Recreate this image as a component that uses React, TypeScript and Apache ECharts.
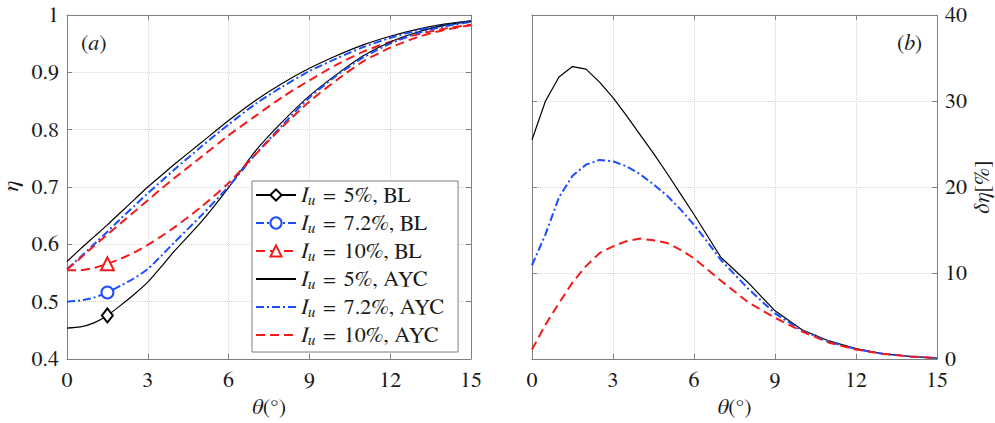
import React, { useEffect, useRef } from "react";
import * as echarts from "echarts";

// ---------- data ----------
const thetaA = [0, 0.5, 1, 1.5, 2, 2.5, 3, 3.5, 4, 5, 6, 7, 8, 9, 10, 11, 12, 13, 14, 15];
const bl5 = [0.454, 0.456, 0.463, 0.476, 0.494, 0.513, 0.534, 0.561, 0.589, 0.640, 0.699, 0.763, 0.814, 0.859, 0.896, 0.929, 0.953, 0.970, 0.982, 0.989];
const bl72 = [0.500, 0.502, 0.507, 0.516, 0.528, 0.541, 0.557, 0.580, 0.604, 0.651, 0.701, 0.757, 0.808, 0.856, 0.894, 0.926, 0.950, 0.968, 0.980, 0.988];
const bl10 = [0.555, 0.555, 0.559, 0.566, 0.575, 0.586, 0.599, 0.614, 0.630, 0.666, 0.707, 0.757, 0.805, 0.849, 0.886, 0.919, 0.943, 0.961, 0.974, 0.982];
const ayc5 = [0.570, 0.592, 0.613, 0.634, 0.656, 0.678, 0.700, 0.720, 0.740, 0.778, 0.816, 0.851, 0.881, 0.907, 0.929, 0.948, 0.963, 0.975, 0.984, 0.990];
const ayc72 = [0.557, 0.578, 0.600, 0.622, 0.645, 0.667, 0.689, 0.710, 0.731, 0.771, 0.809, 0.845, 0.875, 0.902, 0.924, 0.944, 0.960, 0.973, 0.982, 0.989];
const ayc10 = [0.556, 0.576, 0.597, 0.617, 0.637, 0.657, 0.677, 0.697, 0.716, 0.753, 0.790, 0.824, 0.857, 0.886, 0.913, 0.936, 0.953, 0.966, 0.976, 0.983];
const markerTheta = 1.5;

const thetaB = [0, 0.5, 1, 1.5, 2, 2.5, 3, 3.5, 4, 4.5, 5, 5.5, 6, 6.5, 7, 8, 9, 10, 11, 12, 13, 14, 15];
const dEta5 = [25.5, 30.0, 32.8, 34.0, 33.7, 32.2, 30.4, 28.3, 26.1, 23.9, 21.6, 19.2, 16.8, 14.3, 11.8, 8.9, 5.6, 3.4, 2.1, 1.2, 0.6, 0.3, 0.1];
const dEta72 = [10.9, 14.5, 18.8, 21.3, 22.6, 23.15, 23.0, 22.4, 21.5, 20.3, 19.0, 17.4, 15.6, 13.6, 11.5, 8.2, 5.3, 3.3, 2.0, 1.15, 0.6, 0.3, 0.1];
const dEta10 = [1.1, 4.0, 6.5, 8.9, 10.8, 12.3, 13.1, 13.7, 14.0, 13.8, 13.5, 12.7, 11.7, 10.4, 9.1, 6.6, 4.8, 3.2, 1.9, 1.1, 0.6, 0.3, 0.1];

const legendNames = ["Iu = 5%, BL", "Iu = 7.2%, BL", "Iu = 10%, BL", "Iu = 5%, AYC", "Iu = 7.2%, AYC", "Iu = 10%, AYC"];
const legendRich = [
  "{i|I}{s|u}{eq|=}{n|5%, BL}",
  "{i|I}{s|u}{eq|=}{n|7.2%, BL}",
  "{i|I}{s|u}{eq|=}{n|10%, BL}",
  "{i|I}{s|u}{eq|=}{n|5%, AYC}",
  "{i|I}{s|u}{eq|=}{n|7.2%, AYC}",
  "{i|I}{s|u}{eq|=}{n|10%, AYC}",
];

const thetaRange = [0, 15, 3];
const etaRange = [0.4, 1, 0.1];
const dEtaRange = [0, 40, 10];

// ---------- styles ----------
const FONT = "Nimbus Roman, FreeSerif, Tinos, Liberation Serif, serif";
const AX = "#7f7f7f";
const TXT = "#1a1a1a";
const BLACK = "#000000";
const BLUE = "#1a4dff";
const RED = "#f51a1a";
const FS = 22;

const lineBlack = { color: BLACK, width: 1.2, type: "solid" as any };
const lineBlue = { color: BLUE, width: 2, type: [8, 3, 2, 3] as any };
const lineRed = { color: RED, width: 2, type: [9, 5] as any };

const plain = { fontFamily: FONT, fontSize: FS, color: TXT };
const ital = { fontFamily: FONT, fontSize: FS, fontStyle: "italic", color: TXT };

function xAxisCfg(gridIndex: number, main: boolean) {
  return {
    type: "value",
    gridIndex,
    position: main ? "bottom" : "top",
    min: thetaRange[0],
    max: thetaRange[1],
    interval: thetaRange[2],
    name: main ? "{i|θ}{n|(°)}" : "",
    nameLocation: "middle",
    nameGap: 32,
    nameTextStyle: { ...plain, rich: { i: ital, n: plain } },
    axisLine: { show: true, onZero: false, lineStyle: { color: AX, width: 1 } },
    axisTick: { show: true, inside: true, length: 5, lineStyle: { color: AX } },
    axisLabel: { show: main, margin: 10, ...plain },
    splitLine: { show: main, lineStyle: { type: "dotted", color: "#d4d4d4", width: 1 } },
  };
}

function yAxisCfg(gridIndex: number, main: boolean, position: string, range: number[], extra: any = {}) {
  return {
    type: "value",
    gridIndex,
    position,
    min: range[0],
    max: range[1],
    interval: range[2],
    axisLine: { show: true, onZero: false, lineStyle: { color: AX, width: 1 } },
    axisTick: { show: true, inside: true, length: 5, lineStyle: { color: AX } },
    axisLabel: { show: main, margin: 8, ...plain },
    splitLine: { show: main, lineStyle: { type: "dotted", color: "#d4d4d4", width: 1 } },
    ...extra,
  };
}

function blSeries(name: string, vals: number[], ls: any, symbol: string, size: any) {
  return {
    type: "line",
    name,
    xAxisIndex: 0,
    yAxisIndex: 0,
    symbol,
    symbolSize: size,
    showSymbol: true,
    smooth: 0.25,
    lineStyle: ls,
    itemStyle: { color: ls.color, borderColor: ls.color, borderWidth: 1.5 },
    data: thetaA.map((t, i) =>
      t === markerTheta ? { value: [t, vals[i]] } : { value: [t, vals[i]], symbol: "none" }
    ),
    z: 3,
  };
}

function aycSeries(name: string, vals: number[], ls: any) {
  return {
    type: "line",
    name,
    xAxisIndex: 0,
    yAxisIndex: 0,
    symbol: "none",
    showSymbol: false,
    smooth: 0.25,
    lineStyle: ls,
    itemStyle: { color: ls.color },
    data: thetaA.map((t, i) => [t, vals[i]]),
    z: 2,
  };
}

function dSeries(vals: number[], ls: any) {
  return {
    type: "line",
    xAxisIndex: 2,
    yAxisIndex: 2,
    symbol: "none",
    showSymbol: false,
    lineStyle: ls,
    itemStyle: { color: ls.color },
    data: thetaB.map((t, i) => [t, vals[i]]),
  };
}

export default function App() {
  const ref = useRef<HTMLDivElement>(null);
  useEffect(() => {
    const chart = echarts.init(ref.current!, null, { renderer: "svg" });
    const richText = {
      i: { ...ital, lineHeight: 26 },
      s: { ...ital, fontSize: 15, lineHeight: 10, verticalAlign: "bottom" },
      eq: { ...plain, lineHeight: 26, padding: [0, 8, 0, 8] },
      n: { ...plain, lineHeight: 26 },
    };
    const option: any = {
      animation: false,
      textStyle: { fontFamily: FONT },
      grid: [
        { left: 67, top: 15, width: 404, height: 344, containLabel: false, outerBoundsMode: "none" },
        { left: 532, top: 15, width: 405, height: 344, containLabel: false, outerBoundsMode: "none" },
      ],
      xAxis: [xAxisCfg(0, true), xAxisCfg(0, false), xAxisCfg(1, true), xAxisCfg(1, false)],
      yAxis: [
        yAxisCfg(0, true, "left", etaRange, {
          name: "{i|η}",
          nameLocation: "middle",
          nameGap: 44,
          nameRotate: 90,
          nameTextStyle: { ...ital, fontSize: 23, rich: { i: { ...ital, fontSize: 23 } } },
        }),
        yAxisCfg(0, false, "right", etaRange),
        yAxisCfg(1, true, "right", dEtaRange, {
          name: "{i|δη}{n|[%]}",
          nameLocation: "middle",
          nameGap: 23,
          nameRotate: 90,
          nameTextStyle: { ...plain, rich: { i: ital, n: plain } },
        }),
        yAxisCfg(1, false, "left", dEtaRange),
      ],
      legend: {
        orient: "vertical",
        left: 252,
        top: 181,
        itemWidth: 40,
        itemHeight: 14,
        itemGap: 4,
        padding: [3, 14, 4, 3],
        borderColor: AX,
        borderWidth: 1,
        backgroundColor: "#ffffff",
        selectedMode: false,
        data: legendNames.map((n, i) => (i < 3 ? { name: n } : { name: n, itemStyle: { opacity: 0 } })),
        formatter: (name: string) => legendRich[legendNames.indexOf(name)],
        textStyle: { ...plain, rich: richText },
      },
      graphic: [
        {
          type: "text",
          x: 81,
          y: 43,
          style: {
            text: "({i|a})",
            fontFamily: FONT,
            fontSize: FS,
            fill: TXT,
            verticalAlign: "middle",
            rich: { i: { fontFamily: FONT, fontSize: FS, fontStyle: "italic", fill: TXT } },
          },
        },
        {
          type: "text",
          x: 897,
          y: 43,
          style: {
            text: "({i|b})",
            fontFamily: FONT,
            fontSize: FS,
            fill: TXT,
            verticalAlign: "middle",
            rich: { i: { fontFamily: FONT, fontSize: FS, fontStyle: "italic", fill: TXT } },
          },
        },
      ],
      series: [
        aycSeries(legendNames[3], ayc5, lineBlack),
        aycSeries(legendNames[4], ayc72, lineBlue),
        aycSeries(legendNames[5], ayc10, lineRed),
        blSeries(legendNames[0], bl5, lineBlack, "emptyDiamond", [11, 14]),
        blSeries(legendNames[1], bl72, lineBlue, "emptyCircle", 12),
        blSeries(legendNames[2], bl10, lineRed, "emptyTriangle", 13),
        dSeries(dEta5, lineBlack),
        dSeries(dEta72, lineBlue),
        dSeries(dEta10, lineRed),
      ],
    };
    chart.setOption(option);
    return () => chart.dispose();
  }, []);
  return (
    <div
      ref={ref}
      style={{ position: "fixed", left: 0, top: 0, width: 995, height: 423, background: "#fff" }}
    />
  );
}
